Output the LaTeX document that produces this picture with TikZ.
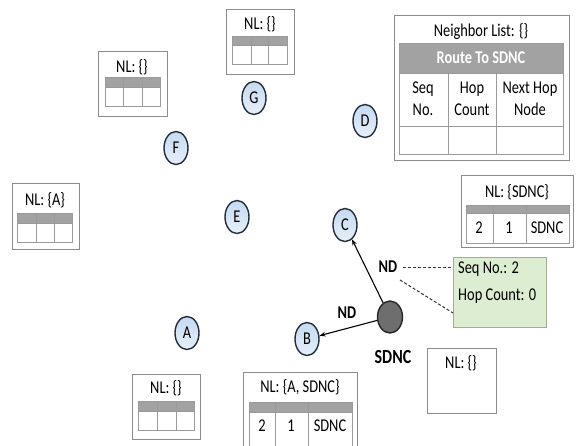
\documentclass[tikz,border=0pt]{standalone}
\usepackage{fontspec}
\setmainfont{Carlito}[FakeStretch=0.8]
\usetikzlibrary{shapes.geometric,arrows.meta}
\definecolor{boxgray}{HTML}{8C8C8C}
\definecolor{gridgray}{HTML}{9A9A9A}
\definecolor{hdrgray}{HTML}{A2A2A2}
\definecolor{nodeedge}{HTML}{1F2D3D}
\definecolor{nodetop}{HTML}{C6DAF0}
\definecolor{nodebot}{HTML}{E6EFF9}
\definecolor{sdncfill}{HTML}{6E6E6E}
\definecolor{greenfill}{HTML}{DDEDD2}
\definecolor{greenedge}{HTML}{9FB08F}
\definecolor{dashgray}{HTML}{333333}
\tikzset{
  x=1pt, y=-1pt,
  txt/.style={font=\fontsize{18}{22}\selectfont, inner sep=0pt, text=black},
  outerbox/.style={draw=boxgray, line width=1pt, fill=white},
  hdr/.style={draw=gridgray, line width=0.8pt, fill=hdrgray},
  cellline/.style={draw=gridgray, line width=0.8pt},
  netnode/.style={ellipse, draw=nodeedge, line width=1.4pt, top color=nodetop, bottom color=nodebot,
     minimum width=24pt, minimum height=33pt, inner sep=0pt, font=\fontsize{18}{20}\selectfont},
  sdnc/.style={ellipse, draw=black!85, line width=1.4pt, fill=sdncfill, minimum width=25pt, minimum height=32pt, inner sep=0pt},
  arr/.style={-{Stealth[length=6pt,width=4.5pt]}, line width=1.1pt, black},
  ndlbl/.style={font=\bfseries\fontsize{18}{20}\selectfont, inner sep=0pt},
  dsh/.style={dashgray, line width=1pt, dash pattern=on 3pt off 2pt},
}
\begin{document}
\begin{tikzpicture}
\useasboundingbox (0,0) rectangle (578,445);
\fill[white] (0,0) rectangle (578,445);

% ---------- network nodes ----------
\node[netnode] (G) at (254,98) {G};
\node[netnode] (F) at (176,148) {F};
\node[netnode] (D) at (365,121) {D};
\node[netnode] (E) at (237,217) {E};
\node[netnode] (C) at (345,225) {C};
\node[netnode] (A) at (187,333) {A};
\node[netnode] (B) at (307,339) {B};
\node[sdnc] (S) at (390,317) {};
\node[font=\bfseries\fontsize{20}{24}\selectfont, inner sep=0pt] (SL) at (393,357) {SDNC};

\draw[arr] (S) -- (C);
\draw[arr] (S) -- (B);
\node[ndlbl] (nd1) at (388,267) {ND};
\node[ndlbl] (nd2) at (347,313) {ND};

% ---------- green message box ----------
\node[draw=greenedge, line width=1pt, fill=greenfill, minimum width=93pt, minimum height=70pt, inner sep=0pt,
      anchor=north west] (msg) at (453,257) {};
\node[txt, anchor=west, align=left, font=\fontsize{18}{27}\selectfont] (msgt) at (458,283) {Seq No.: 2\\Hop Count: 0};
\coordinate (d1s) at (403,267);
\coordinate (d2s) at (400,280);
\draw[dsh] (d1s) -- (msg.west |- d1s);
\draw[dsh] (d2s) -- (453,313);

% ---------- big neighbour table ----------
\node[outerbox, minimum width=175pt, minimum height=145pt, anchor=north west, inner sep=0pt] (big) at (394,15) {};
\node[txt] (bigt) at (481,32) {Neighbor List: \{\}};
\draw[hdr] (399,43) rectangle (563,73);
\node[txt, font=\bfseries\fontsize{18}{22}\selectfont, text=white] (route) at (481,58) {Route To SDNC};
\draw[cellline] (399,73) rectangle (563,154);
\draw[cellline] (399,126) -- (563,126);
\draw[cellline] (448,73) -- (448,154);
\draw[cellline] (496,73) -- (496,154);
\node[txt, align=center] (h1) at (423,99) {Seq\\No.};
\node[txt, align=center] (h2) at (472,99) {Hop\\Count};
\node[txt, align=center] (h3) at (530,99) {Next Hop\\Node};

% ---------- NL table above G ----------
\node[outerbox, minimum width=68pt, minimum height=65pt, anchor=north west, inner sep=0pt] (tG) at (226,9) {};
\node[txt] (tGt) at (260,24) {NL: \{\}};
\draw[hdr] (232,36) rectangle (287,45);
\draw[cellline] (232,45) rectangle (287,64);
\draw[cellline] (251,36) -- (251,64);
\draw[cellline] (268,36) -- (268,64);

% ---------- NL table above F ----------
\node[outerbox, minimum width=69pt, minimum height=65pt, anchor=north west, inner sep=0pt] (tF) at (98,51) {};
\node[txt] (tFt) at (132,67) {NL: \{\}};
\draw[hdr] (105,77) rectangle (160,87);
\draw[cellline] (105,87) rectangle (160,106);
\draw[cellline] (123,77) -- (123,106);
\draw[cellline] (142,77) -- (142,106);

% ---------- NL {A} ----------
\node[outerbox, minimum width=67pt, minimum height=66pt, anchor=north west, inner sep=0pt] (tL) at (12,183) {};
\node[txt] (tLt) at (45,200) {NL: \{A\}};
\draw[hdr] (17,213) rectangle (72,223);
\draw[cellline] (17,223) rectangle (72,242);
\draw[cellline] (36,213) -- (36,242);
\draw[cellline] (54,213) -- (54,242);

% ---------- NL below A ----------
\node[outerbox, minimum width=68pt, minimum height=65pt, anchor=north west, inner sep=0pt] (tA) at (132,374) {};
\node[txt] (tAt) at (166,388) {NL: \{\}};
\draw[hdr] (138,401) rectangle (194,411);
\draw[cellline] (138,411) rectangle (194,430);
\draw[cellline] (157,401) -- (157,430);
\draw[cellline] (176,401) -- (176,430);

% ---------- NL {A, SDNC} below B ----------
\node[outerbox, minimum width=114pt, minimum height=80pt, anchor=north west, inner sep=0pt] (tB) at (243,372) {};
\node[txt] (tBt) at (300,387) {NL: \{A, SDNC\}};
\draw[hdr] (249,402) rectangle (352,412);
\draw[cellline] (249,412) rectangle (352,447);
\draw[cellline] (275,402) -- (275,447);
\draw[cellline] (308,402) -- (308,447);
\node[txt] (b1) at (262,426) {2};
\node[txt] (b2) at (291,426) {1};
\node[txt] (b3) at (330,426) {SDNC};

% ---------- NL {SDNC} near C ----------
\node[outerbox, minimum width=112pt, minimum height=72pt, anchor=north west, inner sep=0pt] (tC) at (461,175) {};
\node[txt] (tCt) at (517,192) {NL: \{SDNC\}};
\draw[hdr] (466,205) rectangle (569,213);
\draw[cellline] (466,213) rectangle (569,243);
\draw[cellline] (493,205) -- (493,243);
\draw[cellline] (526,205) -- (526,243);
\node[txt] (c1) at (479,228) {2};
\node[txt] (c2) at (509,228) {1};
\node[txt] (c3) at (547,228) {SDNC};

% ---------- NL box near SDNC ----------
\node[outerbox, minimum width=69pt, minimum height=65pt, anchor=north west, inner sep=0pt] (tS) at (427,348) {};
\node[txt] (tSt) at (461,363) {NL: \{\}};
\end{tikzpicture}
\end{document}
